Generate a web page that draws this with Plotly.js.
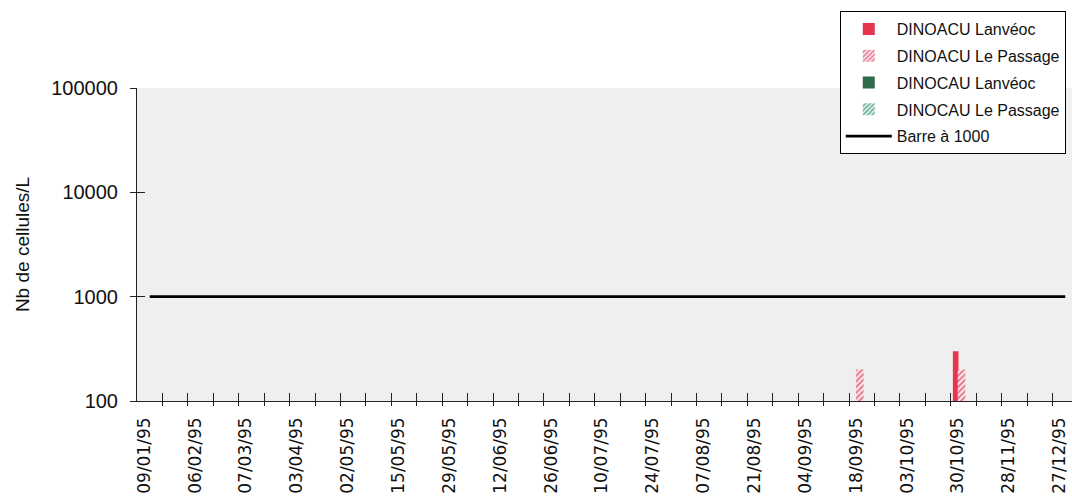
<!DOCTYPE html>
<html>
<head>
<meta charset="utf-8">
<script src="https://cdn.plot.ly/plotly-3.0.1.min.js"></script>
<style>
  html, body { margin: 0; padding: 0; overflow: hidden; background: #ffffff; }
  #chart { width: 1080px; height: 498px; }
</style>
</head>
<body>
<div id="chart"></div>
<script>
// Sampling dates (1995)
const dates = [
  "09/01/95", "23/01/95", "06/02/95", "20/02/95", "07/03/95", "20/03/95",
  "03/04/95", "18/04/95", "02/05/95", "09/05/95", "15/05/95", "22/05/95",
  "29/05/95", "06/06/95", "12/06/95", "19/06/95", "26/06/95", "03/07/95",
  "10/07/95", "17/07/95", "24/07/95", "31/07/95", "07/08/95", "14/08/95",
  "21/08/95", "28/08/95", "04/09/95", "11/09/95", "18/09/95", "25/09/95",
  "03/10/95", "16/10/95", "30/10/95", "14/11/95", "28/11/95", "12/12/95",
  "27/12/95"
];

// Dates shown on the axis (every other sample)
const labelledDates = [
  "09/01/95", "06/02/95", "07/03/95", "03/04/95", "02/05/95", "15/05/95",
  "29/05/95", "12/06/95", "26/06/95", "10/07/95", "24/07/95", "07/08/95",
  "21/08/95", "04/09/95", "18/09/95", "03/10/95", "30/10/95", "28/11/95",
  "27/12/95"
];

// Cell counts (cells / L); null = not detected
const dinoacuLanveoc = [
  null, null, null, null, null, null, null, null, null, null, null, null,
  null, null, null, null, null, null, null, null, null, null, null, null,
  null, null, null, null, null, null, null, null, 300, null, null, null,
  null
];
const dinoacuPassage = [
  null, null, null, null, null, null, null, null, null, null, null, null,
  null, null, null, null, null, null, null, null, null, null, null, null,
  null, null, null, null, 200, null, null, null, 200, null, null, null,
  null
];
const dinocauLanveoc = [
  null, null, null, null, null, null, null, null, null, null, null, null,
  null, null, null, null, null, null, null, null, null, null, null, null,
  null, null, null, null, null, null, null, null, null, null, null, null,
  null
];
const dinocauPassage = [
  null, null, null, null, null, null, null, null, null, null, null, null,
  null, null, null, null, null, null, null, null, null, null, null, null,
  null, null, null, null, null, null, null, null, null, null, null, null,
  null
];
// Alert threshold
const threshold = 1000;
const yTicks = [100, 1000, 10000, 100000];

const RED = "#e5354f";
const PINK = "#e2708a";
const GREEN = "#2f6b4c";
const TEAL = "#5ea590";

const barreValues = dates.map(() => threshold);
// category boundaries, for the tick marks between samples
const boundaries = dates.slice(1).map((_, i) => i + 0.5);
const xRange = [-0.5, dates.length - 0.5];
// rotated date labels sit slightly left of their category centre
const labelPos = labelledDates.map(d => dates.indexOf(d) - 0.22);

const traces = [
  {
    type: "bar", name: "DINOACU Lanvéoc", x: dates, y: dinoacuLanveoc,
    marker: { color: RED, line: { width: 0 } },
    offset: -0.42, width: 0.22, legendgroup: "a"
  },
  {
    type: "bar", name: "DINOACU Le Passage", x: dates, y: dinoacuPassage,
    marker: {
      color: "#fbe6ea", line: { width: 0 },
      pattern: { shape: "/", fgcolor: PINK, bgcolor: "#fbe6ea", size: 4, solidity: 0.45 }
    },
    offset: -0.23, width: 0.3, legendgroup: "b"
  },
  {
    type: "bar", name: "DINOCAU Lanvéoc", x: dates, y: dinocauLanveoc,
    marker: { color: GREEN, line: { width: 0 } },
    offset: 0.07, width: 0.22, legendgroup: "c"
  },
  {
    type: "bar", name: "DINOCAU Le Passage", x: dates, y: dinocauPassage,
    marker: {
      color: "#e4f1ec", line: { width: 0 },
      pattern: { shape: "/", fgcolor: TEAL, bgcolor: "#e4f1ec", size: 4, solidity: 0.45 }
    },
    offset: 0.2, width: 0.22, legendgroup: "d"
  },
  {
    type: "scatter", mode: "lines", name: "Barre à 1000", x: dates, y: barreValues,
    line: { color: "#000000", width: 2.6 }, legendgroup: "e"
  }
];

const overlayAxis = (extra) => Object.assign({
  overlaying: "x", anchor: "y", range: xRange, type: "linear",
  tickmode: "array", showticklabels: false,
  showgrid: false, zeroline: false, showline: false, fixedrange: true
}, extra);

const layout = {
  width: 1080, height: 498,
  margin: { l: 137, r: 2, t: 88, b: 97 },
  paper_bgcolor: "#ffffff",
  plot_bgcolor: "#efefef",
  barmode: "group",
  showlegend: true,
  legend: {
    x: 0.987, xanchor: "right", y: 1.246, yanchor: "top",
    bgcolor: "#ffffff", bordercolor: "#000000", borderwidth: 1,
    font: { family: "Liberation Sans", size: 16, color: "#111" },
    traceorder: "grouped", tracegroupgap: 3, itemwidth: 46
  },
  xaxis: {
    type: "category", range: xRange,
    tickmode: "array", tickvals: labelledDates, showticklabels: false, ticks: "",
    showline: true, linecolor: "#222", linewidth: 1,
    showgrid: false, zeroline: false, fixedrange: true
  },
  // boundary tick marks, crossing the axis line
  xaxis2: overlayAxis({ tickvals: boundaries, ticks: "inside", ticklen: 8, tickwidth: 1, tickcolor: "#222" }),
  xaxis3: overlayAxis({ tickvals: boundaries, ticks: "outside", ticklen: 4, tickwidth: 1, tickcolor: "#222" }),
  // date labels
  xaxis4: overlayAxis({
    tickvals: labelPos, ticktext: labelledDates, showticklabels: true, ticks: "",
    tickangle: -90, ticklabelstandoff: 12,
    tickfont: { family: "DejaVu Sans", size: 17, color: "#111" }
  }),
  yaxis: {
    type: "log", range: [2, 5],
    tickmode: "array", tickvals: yTicks, ticktext: yTicks.map(String),
    ticks: "outside", ticklen: 6, tickwidth: 1, tickcolor: "#222",
    ticklabelstandoff: 8,
    tickfont: { family: "Liberation Sans", size: 20, color: "#111" },
    title: { text: "Nb de cellules/L", font: { family: "Liberation Sans", size: 19, color: "#111" }, standoff: 16 },
    showline: true, linecolor: "#222", linewidth: 1,
    showgrid: false, zeroline: false, fixedrange: true
  },
  yaxis2: {
    type: "log", range: [2, 5], overlaying: "y", anchor: "x", side: "left",
    tickmode: "array", tickvals: yTicks, ticks: "inside", ticklen: 8,
    tickwidth: 1, tickcolor: "#222", showticklabels: false,
    showgrid: false, zeroline: false, showline: false, fixedrange: true
  }
};

// empty carriers so the overlay axes are drawn
traces.push({ type: "scatter", x: [], y: [], xaxis: "x2", yaxis: "y", showlegend: false, hoverinfo: "skip" });
traces.push({ type: "scatter", x: [], y: [], xaxis: "x3", yaxis: "y2", showlegend: false, hoverinfo: "skip" });
traces.push({ type: "scatter", x: [], y: [], xaxis: "x4", yaxis: "y", showlegend: false, hoverinfo: "skip" });

Plotly.newPlot("chart", traces, layout, { displayModeBar: false, staticPlot: true });
</script>
</body>
</html>
